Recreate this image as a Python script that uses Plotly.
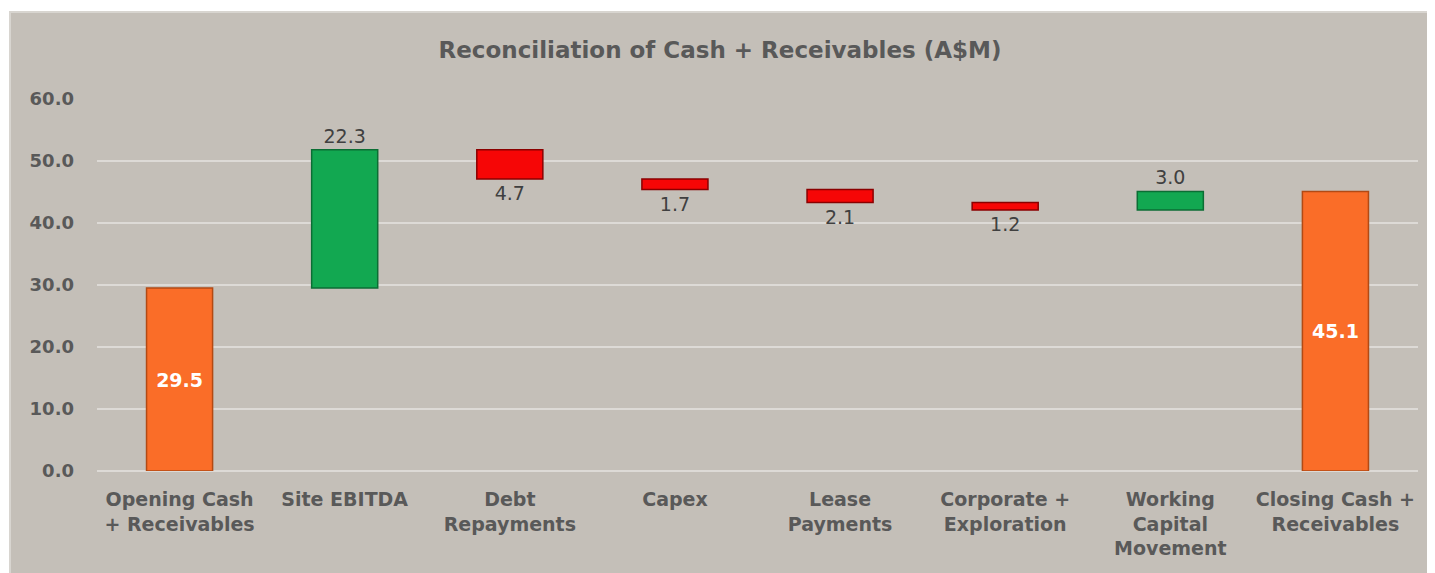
import plotly.graph_objects as go

categories = ["Opening Cash<br>+ Receivables", "Site EBITDA", "Debt<br>Repayments", "Capex",
              "Lease<br>Payments", "Corporate +<br>Exploration", "Working<br>Capital<br>Movement",
              "Closing Cash +<br>Receivables"]
changes = [29.5, 22.3, -4.7, -1.7, -2.1, -1.2, 3.0, 45.1]
kinds = ["total", "up", "down", "down", "down", "down", "up", "total"]
y_ticks = [0, 10, 20, 30, 40, 50, 60]

FONT = "'DejaVu Sans', Verdana, sans-serif"

bases, heights, colors, lines, texts, tpos = [], [], [], [], [], []
running = 0.0
for v, k in zip(changes, kinds):
    if k == "total":
        bases.append(0)
        heights.append(v)
        running = v
        colors.append("#FA6D28")
        lines.append("#B24A14")
        tpos.append("inside")
    else:
        bases.append(running)
        heights.append(v)
        running += v
        if k == "up":
            colors.append("#12A851")
            lines.append("#0B6E34")
        else:
            colors.append("#F60606")
            lines.append("#8A0000")
        tpos.append("outside")
    texts.append(f"{abs(v):.1f}")

insidefont = dict(family=FONT, size=19, color="white")
outsidefont = dict(family=FONT, size=19, color="#404040")

fig = go.Figure()
fig.add_trace(go.Bar(
    x=categories, y=heights, base=bases,
    marker=dict(color=colors, line=dict(color=lines, width=1.5)),
    text=[f"<b>{t}</b>" if p == "inside" else t for t, p in zip(texts, tpos)],
    textposition=tpos,
    insidetextanchor="middle",
    insidetextfont=insidefont,
    outsidetextfont=outsidefont,
    textangle=0,
    cliponaxis=False,
    width=0.4,
    hoverinfo="skip",
))

# page body has an 8px margin; compensate so the figure lands where the reference does
OFF = 8
W, H = 1435 - OFF, 573 - OFF
L, T = 97 - OFF, 99 - OFF
R = W - (1418 - OFF)
B = H - (471 - OFF)
pw, ph = W - L - R, H - T - B

def px_x(p):
    return (p - OFF - L) / pw

def px_y(p):
    return (H - B - (p - OFF)) / ph

fig.add_shape(type="rect", xref="paper", yref="paper",
              x0=px_x(10), x1=px_x(1433), y0=px_y(12), y1=px_y(580),
              fillcolor="#C4BFB8", line=dict(color="#D8D5D0", width=2), layer="below")

fig.update_layout(
    width=W, height=H,
    margin=dict(l=L, r=R, t=T, b=B),
    paper_bgcolor="white",
    plot_bgcolor="rgba(0,0,0,0)",
    showlegend=False,
    title=dict(text="<b>Reconciliation of Cash + Receivables (A$M)</b>",
               x=px_x(720), xanchor="center", xref="paper",
               y=1 - (50 - OFF) / H, yanchor="middle",
               font=dict(family=FONT, size=23, color="#595959")),
    font=dict(family=FONT, color="#595959"),
)
fig.update_yaxes(range=[0, 60], tickvals=y_ticks,
                 ticktext=[f"<b>{v:.1f}</b>" for v in y_ticks],
                 tickfont=dict(size=18, color="#595959"),
                 gridcolor="#DDDAD6", gridwidth=2, zeroline=True, zerolinecolor="#DDDAD6",
                 zerolinewidth=2, showline=False, ticks="", ticklabelstandoff=22)
fig.update_xaxes(tickfont=dict(size=19, color="#595959"), showline=False, ticks="",
                 showgrid=False, ticklabelstandoff=15,
                 ticktext=[f"<b>{c}</b>" for c in categories], tickvals=categories)

fig.write_html("out.html")
